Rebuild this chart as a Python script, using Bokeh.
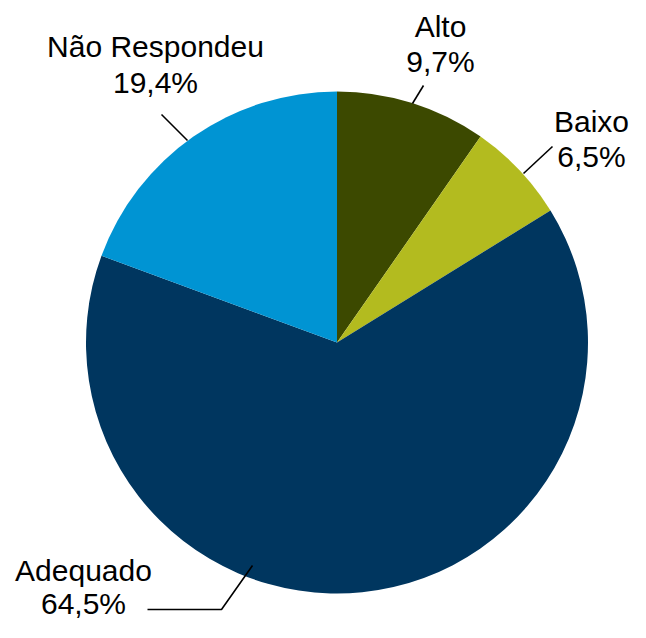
import math
from bokeh.plotting import figure
from bokeh.models import Range1d, ColumnDataSource
from bokeh.core.properties import value
from bokeh.embed import file_html
from bokeh.resources import INLINE

# ---- data ----
categories = ["Alto", "Baixo", "Adequado", "Não Respondeu"]
percents = [9.7, 6.5, 64.5, 19.4]
colors = ["#3c4900", "#b3bb1f", "#00365f", "#0094d3"]

# ---- layout (picture pixel coordinates, y downward -> data y = -py) ----
W, H = 630, 622
cx, cy, r = 336.5, 342.0, 251.0
TEXT_SHIFT = 11  # rendered text sits lower than requested baseline
label_pos = {  # centre x, baseline y of first line, baseline y of second line
    "Alto": (440, 37, 72),
    "Baixo": (591, 132, 167),
    "Adequado": (83, 581, 614),
    "Não Respondeu": (155, 57, 93),
}
leaders = {
    "Alto": [(423, 85), (412, 103)],
    "Baixo": [(552, 146), (523, 173)],
    "Adequado": [(147, 609), (221, 609), (252, 565)],
    "Não Respondeu": [(161, 114), (187, 140)],
}

p = figure(width=W, height=H, output_backend="svg", toolbar_location=None,
           x_range=Range1d(0, W), y_range=Range1d(-H, 0),
           min_border=0, outline_line_color=None)
p.axis.visible = False
p.grid.visible = False
p.background_fill_color = "white"
p.border_fill_color = "white"

total = sum(percents)
starts, ends = [], []
a = math.pi / 2
for v in percents:
    starts.append(a)
    a -= v / total * 2 * math.pi
    ends.append(a)

src = ColumnDataSource(dict(start=starts, end=ends, color=colors, cat=categories))
p.wedge(x=cx, y=-cy, radius=r, start_angle="start", end_angle="end",
        direction="clock", fill_color="color", line_color=None, source=src)

for cat, pct in zip(categories, percents):
    pts = leaders[cat]
    p.line([q[0] for q in pts], [-q[1] for q in pts], line_color="black", line_width=1.6)
    x0, y1, y2 = label_pos[cat]
    txt = f"{pct:.1f}%".replace(".", ",")
    p.text(x=[x0, x0], y=[-(y1 - TEXT_SHIFT), -(y2 - TEXT_SHIFT)], text=[cat, txt],
           text_align="center", text_baseline="alphabetic",
           text_font=value("Liberation Sans"), text_font_size="30px",
           text_color="black")

open("out.html", "w").write(file_html(p, INLINE))
